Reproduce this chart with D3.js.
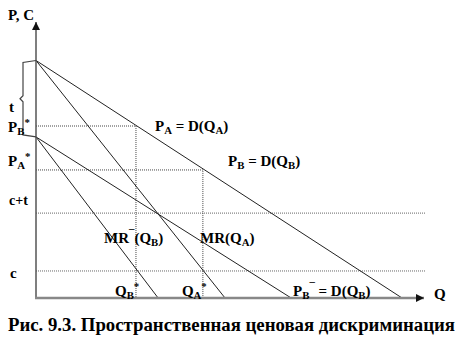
<!DOCTYPE html>
<html>
<head>
<meta charset="utf-8">
<script src="https://cdn.jsdelivr.net/npm/d3@7"></script>
<style>body{margin:0;background:#fff;}</style>
</head>
<body>
<script>
// demand and marginal revenue lines: price where they start, quantity where they hit the axis
var curveNames = ["D(QA)", "MR(QA)", "D(QB)", "MR(QB)"];
var priceStart = [87, 87, 59, 59];
var quantityEnd = [94.1, 48.6, 65.6, 31.4];
// optimum points (dotted guides)
var optimumNames = ["PB*", "PA*"];
var optimumPrice = [63, 46.9];
var optimumQuantity = [25.7, 42.9];
// cost levels c+t and c
var costNames = ["c+t", "c"];
var costLevels = [31.1, 9.9];

var width = 460, height = 340;

var svg = d3.select("body")
    .append("svg")
    .attr("width", width)
    .attr("height", height);

var x = d3.scaleLinear().domain([0, 100]).range([36, 425]);
var y = d3.scaleLinear().domain([0, 100]).range([298, 25]);

// dotted cost lines
svg.selectAll("line.cost")
    .data(costLevels).enter()
    .append("line")
    .attr("class", "cost")
    .attr("x1", x(0))
    .attr("x2", x(100))
    .attr("y1", function(d){ return y(d); })
    .attr("y2", function(d){ return y(d); })
    .attr("stroke", "#666")
    .attr("stroke-width", 1)
    .attr("stroke-dasharray", "1,1");

// dotted guides to the optimum points
optimumPrice.forEach(function(p, i){
    var q = optimumQuantity[i];
    svg.append("path")
        .attr("d", d3.line()([[x(0), y(p)], [x(q), y(p)], [x(q), y(0)]]))
        .attr("fill", "none")
        .attr("stroke", "#444")
        .attr("stroke-width", 1)
        .attr("stroke-dasharray", "1,1");
});

// demand and MR lines
svg.selectAll("line.curve")
    .data(curveNames).enter()
    .append("line")
    .attr("class", "curve")
    .attr("x1", x(0))
    .attr("y1", function(d, i){ return y(priceStart[i]); })
    .attr("x2", function(d, i){ return x(quantityEnd[i]); })
    .attr("y2", y(0))
    .attr("stroke", "#222")
    .attr("stroke-width", 1);

// axes with arrows
var defs = svg.append("defs");
defs.append("marker")
    .attr("id", "arrow")
    .attr("viewBox", "0 0 10 10")
    .attr("refX", 10).attr("refY", 5)
    .attr("markerUnits", "userSpaceOnUse")
    .attr("markerWidth", 10).attr("markerHeight", 8)
    .attr("orient", "auto")
    .append("path")
    .attr("d", "M0,0L10,5L0,10Z")
    .attr("fill", "#111");

svg.append("line")
    .attr("x1", x(0)).attr("y1", y(0))
    .attr("x2", x(0)).attr("y2", 22)
    .attr("stroke", "#555")
    .attr("stroke-width", 1.5)
    .attr("marker-end", "url(#arrow)");

svg.append("line")
    .attr("x1", x(0) - 1).attr("y1", y(0))
    .attr("x2", 424).attr("y2", y(0))
    .attr("stroke", "#888")
    .attr("stroke-width", 2.5)
    .attr("marker-end", "url(#arrow)");

// brace marking t between the two intercepts
var yt = y(priceStart[0]), yb = y(priceStart[2]), ym = (yt + yb) / 2;
svg.append("path")
    .attr("d", d3.line()([[x(0), yt], [23, yt + 2], [23, ym - 3], [20, ym], [23, ym + 3], [23, yb - 2], [x(0), yb]]))
    .attr("fill", "none")
    .attr("stroke", "#444")
    .attr("stroke-width", 1.2);

// text helper with sub / superscripts
function addLabel(lx, ly, parts, size){
    var t = svg.append("text")
        .attr("x", lx)
        .attr("y", ly)
        .style("font-family", "'Liberation Serif', serif")
        .style("font-weight", "bold")
        .style("font-size", size + "px")
        .attr("fill", "#000");
    var shift = 0;
    parts.forEach(function(p){
        var s = p[1] === "sub" ? 3 : (p[1] === "sup" ? -6 : 0);
        t.append("tspan")
            .attr("dy", s - shift)
            .style("font-size", (p[1] ? size * 0.72 : size) + "px")
            .text(p[0]);
        shift = s;
    });
    return t;
}

addLabel(8, 20, [["P, C"]], 15);
addLabel(9, ym + 13, [["t"]], 15);
addLabel(8, y(optimumPrice[0]) + 6, [["P"], ["B", "sub"], ["*", "sup"]], 15);
addLabel(8, y(optimumPrice[1]) - 4, [["P"], ["A", "sub"], ["*", "sup"]], 15);
addLabel(9, y(costLevels[0]) - 8, [["c+t"]], 14);
addLabel(10, y(costLevels[1]) + 7, [["c"]], 15);

addLabel(x(optimumQuantity[0]) - 21, 296, [["Q"], ["B", "sub"], ["*", "sup"]], 15);
addLabel(x(optimumQuantity[1]) - 21, 296, [["Q"], ["A", "sub"], ["*", "sup"]], 15);

addLabel(155, 131, [["P"], ["A", "sub"], [" = D(Q"], ["A", "sub"], [")"]], 15);
addLabel(228, 166, [["P"], ["B", "sub"], [" = D(Q"], ["B", "sub"], [")"]], 15);
addLabel(104, 243, [["MR"], ["\u00af", "sup"], ["(Q"], ["B", "sub"], [")"]], 15);
addLabel(200, 243, [["MR(Q"], ["A", "sub"], [")"]], 15);
addLabel(293, 296, [["P"], ["B", "sub"], ["\u00af", "sup"], [" = D(Q"], ["B", "sub"], [")"]], 15);
addLabel(434, 299, [["Q"]], 15);

addLabel(8, 331, [["Рис. 9.3. Пространственная ценовая дискриминация"]], 18)
    .attr("textLength", 447)
    .attr("lengthAdjust", "spacingAndGlyphs");
</script>
</body>
</html>
